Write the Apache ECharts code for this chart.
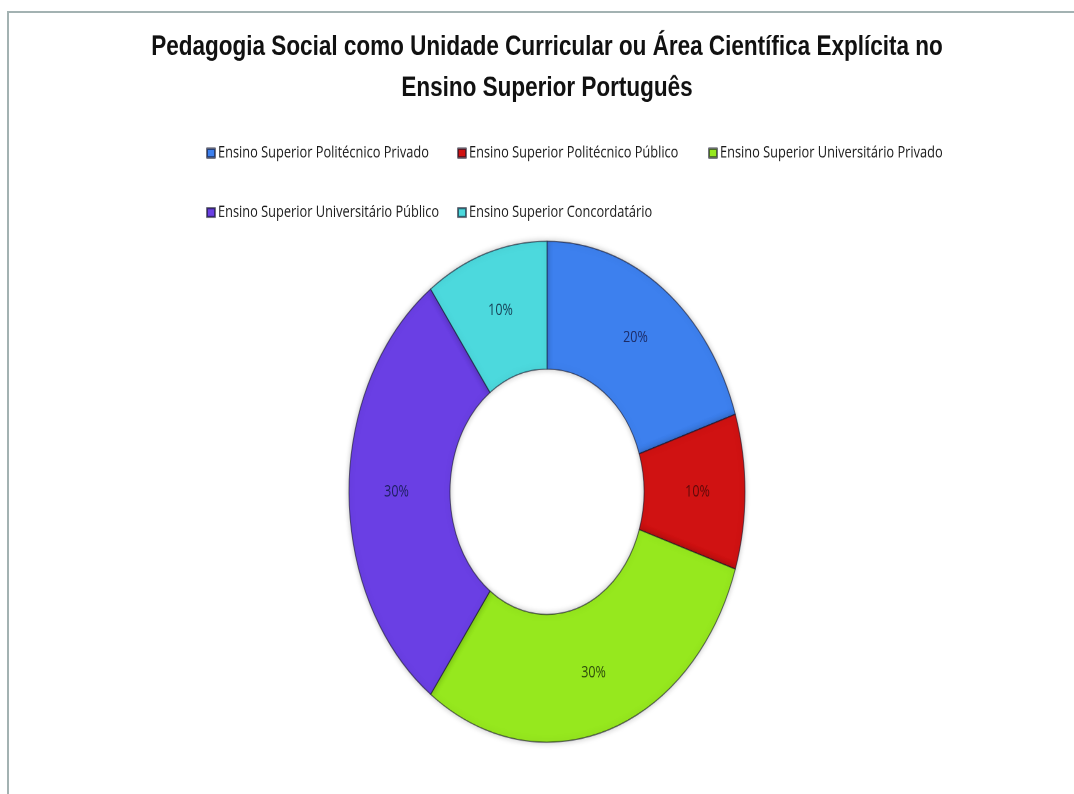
<!DOCTYPE html>
<html>
<head>
<meta charset="utf-8">
<script src="https://cdn.jsdelivr.net/npm/echarts@6/dist/echarts.min.js"></script>
<style>
  html, body { margin: 0; padding: 0; width: 1074px; height: 794px; overflow: hidden; background: #ffffff; }
  #frame { position: absolute; left: 7px; top: 11px; width: 2000px; height: 2000px;
           border-left: 2px solid #a3b2b2; border-top: 2px solid #a3b2b2; }
  #chart { position: absolute; left: 0; top: 0; width: 1094px; height: 628px;
           transform: scaleY(1.265); transform-origin: 0 0; }
</style>
</head>
<body>
<div id="frame"></div>
<div id="chart"></div>
<script>
// ---- data ----
const titleLines = [
  'Pedagogia Social como Unidade Curricular ou Área Científica Explícita no',
  'Ensino Superior Português'
];
const categories = [
  'Ensino Superior Politécnico Privado',
  'Ensino Superior Politécnico Público',
  'Ensino Superior Universitário Privado',
  'Ensino Superior Universitário Público',
  'Ensino Superior Concordatário'
];
const percentages = [20, 10, 30, 30, 10];
const sliceColors = ['#3d80ee', '#d01212', '#96e81e', '#6a3fe4', '#4cd9dd'];
const labelColors = ['#1c2b66', '#5c0a0a', '#2c4a0c', '#1c1f5e', '#173f55'];

// ---- font availability ----
function hasFont(name) {
  const ctx = document.createElement('canvas').getContext('2d');
  const s = 'abcdefghijklmnopqrstuvwxyz ABCDEFG';
  ctx.font = '20px monospace';
  const w1 = ctx.measureText(s).width;
  ctx.font = '20px "' + name + '", monospace';
  const w2 = ctx.measureText(s).width;
  return Math.abs(w1 - w2) > 0.5;
}
const narrow = hasFont('Liberation Sans Narrow');
const titleFont = narrow ? '"Liberation Sans Narrow", "Liberation Sans", sans-serif' : '"Liberation Sans", sans-serif';
const titleSize = narrow ? 27.6 : 22.5;

const chart = echarts.init(document.getElementById('chart'), null, { renderer: 'canvas', devicePixelRatio: 2 });

// legend item positions (icon left x, row top y in unscaled coords)
const legendSlots = [[206, 114.5], [457, 114.5], [708, 114.5], [206, 161.5], [457, 161.5]];

const legends = categories.map((name, i) => ({
  data: [name],
  left: legendSlots[i][0],
  top: legendSlots[i][1],
  padding: 0,
  itemWidth: 8,
  itemHeight: 7,
  icon: 'rect',
  selectedMode: false,
  textStyle: { fontFamily: '"Open Sans", sans-serif', fontSize: 12.8, color: '#1a1a1a', padding: [0, 0, 0, -2] }
}));

const option = {
  backgroundColor: 'transparent',
  animation: false,
  title: {
    text: titleLines.join('\n'),
    left: 'center',
    top: 21,
    padding: 0,
    textStyle: { fontFamily: titleFont, fontWeight: 'bold', fontSize: titleSize, color: '#111111', lineHeight: 32.5 }
  },
  legend: legends,
  series: [{
    type: 'pie',
    center: [547, 388.7],
    radius: [97, 198],
    startAngle: 90,
    clockwise: true,
    avoidLabelOverlap: false,
    label: {
      show: true,
      position: 'inside',
      formatter: '{c}%',
      fontFamily: '"Open Sans", sans-serif',
      fontSize: 12.5
    },
    labelLine: { show: false },
    emphasis: { disabled: true },
    itemStyle: {
      borderColor: 'rgba(20,20,40,0.6)',
      borderWidth: 1,
      shadowBlur: 6,
      shadowColor: 'rgba(0,0,0,0.25)'
    },
    data: categories.map((name, i) => ({
      name: name,
      value: percentages[i],
      itemStyle: { color: sliceColors[i] },
      label: { color: labelColors[i] }
    }))
  }]
};
chart.setOption(option);
</script>
</body>
</html>
